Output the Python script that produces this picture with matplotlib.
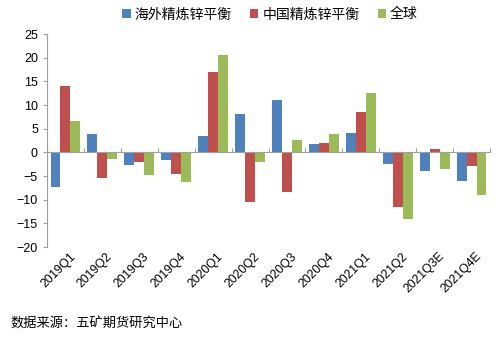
import matplotlib
matplotlib.use('Agg')
import matplotlib.pyplot as plt
import matplotlib.transforms as mtransforms
import numpy as np

plt.rcParams['font.family'] = ['Liberation Sans', 'Noto Sans CJK SC', 'DejaVu Sans']

quarters = ['2019Q1', '2019Q2', '2019Q3', '2019Q4', '2020Q1', '2020Q2',
            '2020Q3', '2020Q4', '2021Q1', '2021Q2', '2021Q3E', '2021Q4E']
overseas = [-7.3, 4.0, -2.7, -1.5, 3.5, 8.2, 11.0, 1.8, 4.1, -2.4, -4.0, -6.0]
china = [14.0, -5.5, -2.0, -4.6, 17.0, -10.5, -8.3, 2.1, 8.5, -11.6, 0.7, -2.9]
world = [6.6, -1.3, -4.8, -6.2, 20.5, -2.1, 2.6, 3.8, 12.5, -14.0, -3.5, -9.0]
series_names = ['海外精炼锌平衡', '中国精炼锌平衡', '全球']
colors = ['#4F81BD', '#C0504D', '#9BBB59']

fig = plt.figure(figsize=(5, 3.38), dpi=100)
ax = fig.add_axes([0.094, 0.269, 0.886, 0.630])

x = np.arange(len(quarters))
w = 0.27
for k, (vals, name, c) in enumerate(zip([overseas, china, world], series_names, colors)):
    ax.bar(x + (k - 1) * w, vals, w, color=c, label=name)

ax.set_xlim(-0.5, len(quarters) - 0.5)
ax.set_ylim(-20, 25)
ax.set_yticks(range(-20, 26, 5))
ax.tick_params(axis='y', labelsize=9, length=3, color='#A0A0A0')

for s in ['top', 'right']:
    ax.spines[s].set_visible(False)
ax.spines['left'].set_color('#A0A0A0')
ax.spines['bottom'].set_position(('data', 0))
ax.spines['bottom'].set_color('#A0A0A0')
ax.set_xticks(np.arange(len(quarters) + 1) - 0.5)
ax.set_xticklabels([])
ax.tick_params(axis='x', direction='in', length=3, color='#A0A0A0')

trans = mtransforms.blended_transform_factory(ax.transData, ax.transAxes)
for i, q in enumerate(quarters):
    ax.text(i + 0.22, -0.035, q, transform=trans, rotation=45, rotation_mode='anchor',
            ha='right', va='center', fontsize=8.8)

fig.legend(loc='upper center', bbox_to_anchor=(0.54, 1.015), ncol=3, frameon=False,
           fontsize=10, handlelength=0.6, handleheight=0.6, handletextpad=0.3,
           columnspacing=1.3)

fig.text(0.02, 0.03, '数据来源：五矿期货研究中心', fontsize=9.5)

fig.savefig('out.png', dpi=100)
